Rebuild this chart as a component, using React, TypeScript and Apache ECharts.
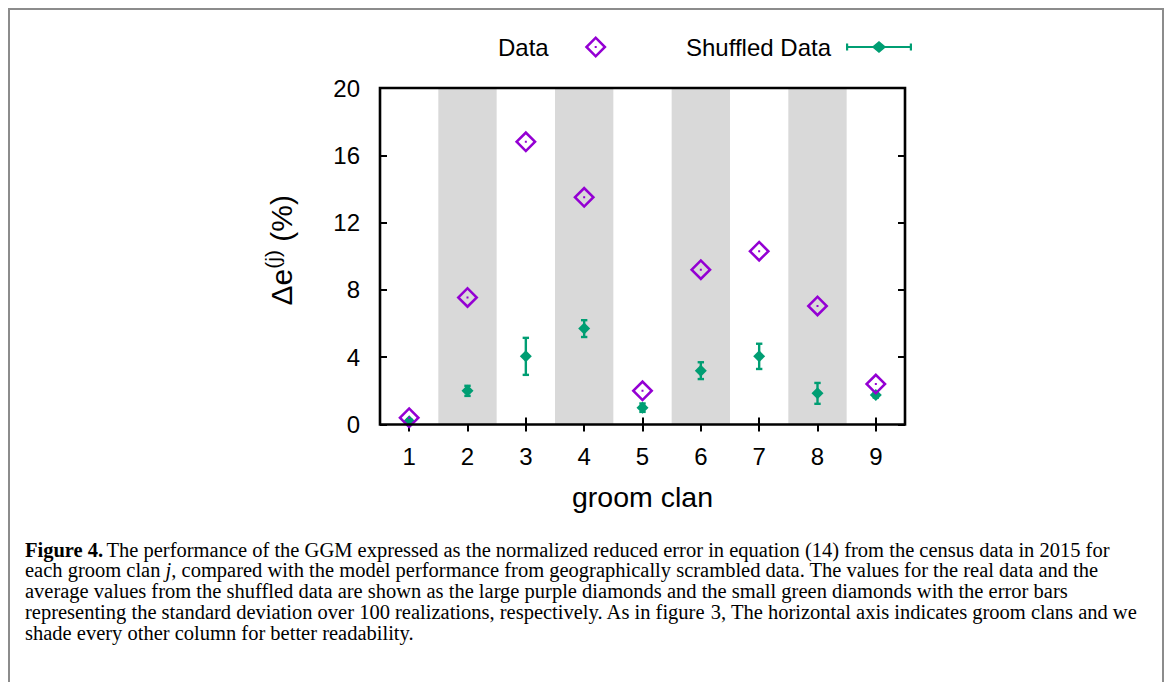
import React, { useEffect, useRef } from "react";
import * as echarts from "echarts";

const clans = [1, 2, 3, 4, 5, 6, 7, 8, 9];
const dataValues = [0.4, 7.55, 16.8, 13.5, 2.0, 9.2, 10.3, 7.05, 2.4];
const shuffledMean = [0.2, 2.0, 4.05, 5.7, 1.0, 3.2, 4.05, 1.85, 1.75];
const shuffledStd = [0.1, 0.3, 1.1, 0.5, 0.25, 0.5, 0.75, 0.62, 0.15];
const shadedClans = [2, 4, 6, 8];
const yTicks = [0, 4, 8, 12, 16, 20];

const captionLines = [
  "{b|Figure 4.} {t|The performance of the GGM expressed as the normalized reduced error in equation (}{l|14}{t|) from the census data in 2015 for}",
  "{t|each groom clan }{i|j}{t|, compared with the model performance from geographically scrambled data. The values for the real data and the}",
  "{t|average values from the shuffled data are shown as the large purple diamonds and the small green diamonds with the error bars}",
  "{t|representing the standard deviation over 100 realizations, respectively. As in figure }{l|3}{t|, The horizontal axis indicates groom clans and we}",
  "{t|shade every other column for better readability.}",
];

const PURPLE = "#9400d3";
const GREEN = "#009e73";
const SANS = "'Liberation Sans', Arial, sans-serif";
const SERIF = "'Liberation Serif', 'Times New Roman', serif";

const GRID = { left: 380, top: 88, width: 525, height: 336.5 };

const DIAMOND_PATH =
  "path://M11,0 L22,11 L11,22 L0,11 Z M11,3.6 L3.6,11 L11,18.4 L18.4,11 Z M10,10 L12,10 L12,12 L10,12 Z";
const SHUFFLED_ICON =
  "path://M0,2.5 L2.2,2.5 L2.2,5 L27,5 L33,0 L39,5 L63.8,5 L63.8,2.5 L66,2.5 L66,9.5 L63.8,9.5 L63.8,7 L39,7 L33,12 L27,7 L2.2,7 L2.2,9.5 L0,9.5 Z";

export default function App() {
  const ref = useRef<HTMLDivElement>(null);

  useEffect(() => {
    if (!ref.current) return;
    const chart = echarts.init(ref.current, undefined, { renderer: "svg" });

    const CAP_FS = 20.5;
    const captionRich = {
      t: { fontFamily: SERIF, fontSize: CAP_FS, color: "#1a1a1a", lineHeight: 21 },
      b: { fontFamily: SERIF, fontSize: CAP_FS, fontWeight: "bold", color: "#1a1a1a", lineHeight: 21 },
      i: { fontFamily: SERIF, fontSize: CAP_FS, fontStyle: "italic", color: "#1a1a1a", lineHeight: 21 },
      l: { fontFamily: SERIF, fontSize: CAP_FS, color: "#1a86c8", lineHeight: 21 },
    };
    const captionY0 = 549.5;
    const captionStep = 20.8;

    const frameAxis = {
      axisLine: { show: false },
      splitLine: { show: false },
    };

    const option: any = {
      animation: false,
      backgroundColor: "#ffffff",
      grid: { left: GRID.left, top: GRID.top, width: GRID.width, height: GRID.height },
      legend: [
        {
          data: [{ name: "Data", icon: DIAMOND_PATH, itemStyle: { color: PURPLE, borderWidth: 0 } }],
          left: 498,
          top: 35,
          padding: 0,
          align: "right",
          itemWidth: 22,
          itemHeight: 22,
          selectedMode: false,
          textStyle: { fontFamily: SANS, fontSize: 24, color: "#000", padding: [0, 31, 0, 0] },
        },
        {
          data: [{ name: "Shuffled Data", icon: SHUFFLED_ICON, itemStyle: { color: GREEN, borderWidth: 0 } }],
          left: 686,
          top: 35,
          padding: 0,
          align: "right",
          itemWidth: 66,
          itemHeight: 12,
          selectedMode: false,
          textStyle: { fontFamily: SANS, fontSize: 24, color: "#000", padding: [0, 10, 0, 0] },
        },
      ],
      xAxis: [
        {
          type: "value",
          min: 0.5,
          max: 9.5,
          position: "bottom",
          ...frameAxis,
          axisTick: {
            show: true,
            inside: true,
            length: 7,
            customValues: clans,
            lineStyle: { color: "#000", width: 2 },
          },
          axisLabel: {
            show: true,
            customValues: clans,
            margin: 20,
            fontFamily: SANS,
            fontSize: 24,
            color: "#000",
          },
          name: "groom clan",
          nameLocation: "middle",
          nameGap: 58,
          nameTextStyle: { fontFamily: SANS, fontSize: 28.5, color: "#000" },
        },
        {
          type: "value",
          min: 0.5,
          max: 9.5,
          position: "top",
          ...frameAxis,
          axisTick: {
            show: true,
            inside: true,
            length: 7,
            customValues: clans,
            lineStyle: { color: "#000", width: 2 },
          },
          axisLabel: { show: false },
        },
      ],
      yAxis: [
        {
          type: "value",
          min: 0,
          max: 20,
          interval: 4,
          position: "left",
          ...frameAxis,
          axisTick: { show: true, inside: true, length: 7, lineStyle: { color: "#000", width: 2 } },
          axisLabel: {
            show: true,
            margin: 20,
            fontFamily: SANS,
            fontSize: 24,
            color: "#000",
            customValues: yTicks,
          },
          name: "{m|Δe}{s|(j)}{m| (%)}",
          nameLocation: "middle",
          nameGap: 84,
          nameTextStyle: {
            padding: [0, 0, 0, 12],
            rich: {
              m: { fontFamily: SANS, fontSize: 30, color: "#000", verticalAlign: "bottom", lineHeight: 30 },
              s: {
                fontFamily: SANS,
                fontSize: 21,
                color: "#000",
                verticalAlign: "bottom",
                lineHeight: 22,
                padding: [0, 0, 13, 0],
              },
            },
          },
        },
        {
          type: "value",
          min: 0,
          max: 20,
          interval: 4,
          position: "right",
          ...frameAxis,
          axisTick: { show: true, inside: true, length: 7, lineStyle: { color: "#000", width: 2 } },
          axisLabel: { show: false },
        },
      ],
      series: [
        {
          name: "bands",
          type: "scatter",
          data: [],
          z: 1,
          silent: true,
          markArea: {
            silent: true,
            itemStyle: { color: "#d9d9d9", opacity: 1, borderWidth: 0 },
            data: shadedClans.map((c) => [{ xAxis: c - 0.5 }, { xAxis: c + 0.5 }]),
          },
        },
        {
          name: "Shuffled Data",
          type: "custom",
          z: 2,
          silent: true,
          data: clans.map((c, i) => [c, shuffledMean[i] - shuffledStd[i], shuffledMean[i] + shuffledStd[i]]),
          encode: { x: 0, y: [1, 2] },
          renderItem: (params: any, api: any) => {
            const x = api.value(0);
            const lo = api.coord([x, api.value(1)]);
            const hi = api.coord([x, api.value(2)]);
            const cap = 3.2;
            const style = { stroke: GREEN, lineWidth: 2.4, fill: null };
            return {
              type: "group",
              children: [
                { type: "line", shape: { x1: lo[0], y1: lo[1], x2: hi[0], y2: hi[1] }, style },
                { type: "line", shape: { x1: hi[0] - cap, y1: hi[1], x2: hi[0] + cap, y2: hi[1] }, style },
                { type: "line", shape: { x1: lo[0] - cap, y1: lo[1], x2: lo[0] + cap, y2: lo[1] }, style },
              ],
            };
          },
        },
        {
          name: "Shuffled Data",
          type: "scatter",
          z: 3,
          symbol: "diamond",
          symbolSize: 12,
          itemStyle: { color: GREEN, opacity: 1 },
          data: clans.map((c, i) => [c, shuffledMean[i]]),
        },
        {
          name: "Data",
          type: "scatter",
          z: 4,
          symbol: DIAMOND_PATH,
          symbolSize: 22,
          symbolKeepAspect: true,
          itemStyle: { color: PURPLE, opacity: 1 },
          data: clans.map((c, i) => [c, dataValues[i]]),
        },
      ],
      graphic: [
        {
          type: "rect",
          z: 100,
          silent: true,
          shape: { x: GRID.left, y: GRID.top, width: GRID.width, height: GRID.height },
          style: { fill: null, stroke: "#000", lineWidth: 2.6 },
        },
        {
          type: "rect",
          z: 100,
          silent: true,
          shape: { x: 9, y: 9, width: 1154, height: 700 },
          style: { fill: null, stroke: "#8c8c8c", lineWidth: 2 },
        },
        ...captionLines.map((line, k) => ({
          type: "text",
          z: 100,
          silent: true,
          x: 25,
          y: captionY0 + k * captionStep,
          style: {
            text: line,
            rich: captionRich,
            verticalAlign: "middle",
            align: "left",
          },
        })),
      ],
    };

    chart.setOption(option);
    return () => chart.dispose();
  }, []);

  return (
    <div
      ref={ref}
      style={{ position: "fixed", left: 0, top: 0, width: 1171, height: 682, background: "#fff" }}
    />
  );
}
